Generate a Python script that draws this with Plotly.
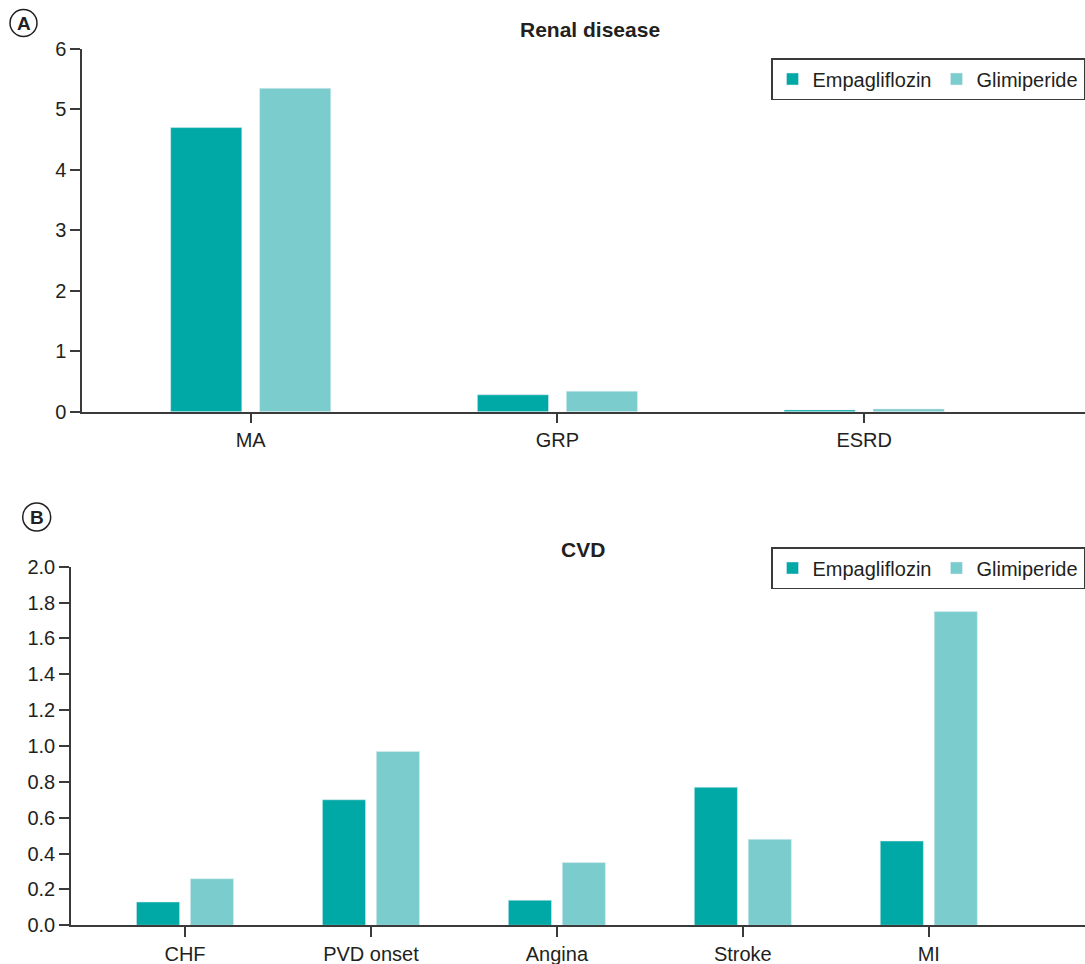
import plotly.graph_objects as go
from plotly.subplots import make_subplots

# Renal disease outcomes
renal_categories = ["MA", "GRP", "ESRD"]
renal_empagliflozin = [4.70, 0.28, 0.03]
renal_glimiperide = [5.35, 0.34, 0.045]

# Cardiovascular outcomes
cvd_categories = ["CHF", "PVD onset", "Angina", "Stroke", "MI"]
cvd_empagliflozin = [0.13, 0.70, 0.14, 0.77, 0.47]
cvd_glimiperide = [0.26, 0.97, 0.35, 0.48, 1.75]

renal_ticks = [0, 1, 2, 3, 4, 5, 6]
cvd_ticks = [0.0, 0.2, 0.4, 0.6, 0.8, 1.0, 1.2, 1.4, 1.6, 1.8, 2.0]

EMPA_COLOR = "#00A9A5"
GLIM_COLOR = "#7BCDCD"
AXIS_COLOR = "#3a3a3a"
TEXT_COLOR = "#231F20"
FONT = "Liberation Sans, Arial, sans-serif"

W, H = 1085, 964

fig = make_subplots(rows=2, cols=1)

fig.add_trace(go.Bar(x=renal_categories, y=renal_empagliflozin, name="Empagliflozin",
                     marker_color=EMPA_COLOR, legend="legend"), row=1, col=1)
fig.add_trace(go.Bar(x=renal_categories, y=renal_glimiperide, name="Glimiperide",
                     marker_color=GLIM_COLOR, legend="legend"), row=1, col=1)
fig.add_trace(go.Bar(x=cvd_categories, y=cvd_empagliflozin, name="Empagliflozin",
                     marker_color=EMPA_COLOR, legend="legend2"), row=2, col=1)
fig.add_trace(go.Bar(x=cvd_categories, y=cvd_glimiperide, name="Glimiperide",
                     marker_color=GLIM_COLOR, legend="legend2"), row=2, col=1)

axis_common = dict(showline=True, linecolor=AXIS_COLOR, linewidth=1.5,
                   ticks="outside", ticklen=10, tickwidth=1.5, tickcolor=AXIS_COLOR,
                   showgrid=False, zeroline=False, automargin=False,
                   tickfont=dict(family=FONT, size=20, color=TEXT_COLOR))

# top panel geometry
fig.update_xaxes(domain=[82 / W, 1.0], range=[-0.55, 2.72], row=1, col=1, **axis_common)
fig.update_yaxes(domain=[1 - 411.7 / H, 1 - 49 / H], range=[0, 6], tickvals=renal_ticks,
                 ticktext=[str(v) for v in renal_ticks], row=1, col=1, **axis_common)

# bottom panel geometry
fig.update_xaxes(domain=[71 / W, 1.0], range=[-0.613, 4.84], row=2, col=1, **axis_common)
fig.update_yaxes(domain=[1 - 925.3 / H, 1 - 566.7 / H], range=[0, 2.0], tickvals=cvd_ticks,
                 ticktext=[f"{v:.1f}" for v in cvd_ticks], row=2, col=1, **axis_common)

legend_common = dict(orientation="h", xanchor="right", x=1.0, yanchor="top",
                     bgcolor="white", bordercolor=AXIS_COLOR, borderwidth=1.5,
                     font=dict(family=FONT, size=20, color=TEXT_COLOR),
                     itemwidth=30, tracegroupgap=0)

fig.update_layout(
    width=W, height=H,
    margin=dict(l=0, r=0, t=0, b=0, autoexpand=False),
    paper_bgcolor="white", plot_bgcolor="white",
    barmode="group", bargap=0.42, bargroupgap=0.2,
    font=dict(family=FONT, color=TEXT_COLOR),
    legend=dict(y=1 - 58 / H, **legend_common),
    legend2=dict(y=1 - 547 / H, **legend_common),
    showlegend=True,
)

# panel titles
for title, tx, ty in [("Renal disease", 590, 29), ("CVD", 583, 549)]:
    fig.add_annotation(text=f"<b>{title}</b>", x=tx / W, y=1 - ty / H, xref="paper", yref="paper",
                       xanchor="center", yanchor="middle", showarrow=False,
                       font=dict(family=FONT, size=21, color=TEXT_COLOR))

# circled panel letters
for letter, cx, cy, r in [("A", 23.5, 23, 13.5), ("B", 36.7, 517, 14)]:
    fig.add_shape(type="circle", xref="paper", yref="paper",
                  x0=(cx - r) / W, x1=(cx + r) / W, y0=1 - (cy + r) / H, y1=1 - (cy - r) / H,
                  line=dict(color=TEXT_COLOR, width=1.5))
    fig.add_annotation(text=f"<b>{letter}</b>", x=cx / W, y=1 - cy / H, xref="paper", yref="paper",
                       xanchor="center", yanchor="middle", showarrow=False,
                       font=dict(family=FONT, size=19, color=TEXT_COLOR))

fig.write_html("out.html")
